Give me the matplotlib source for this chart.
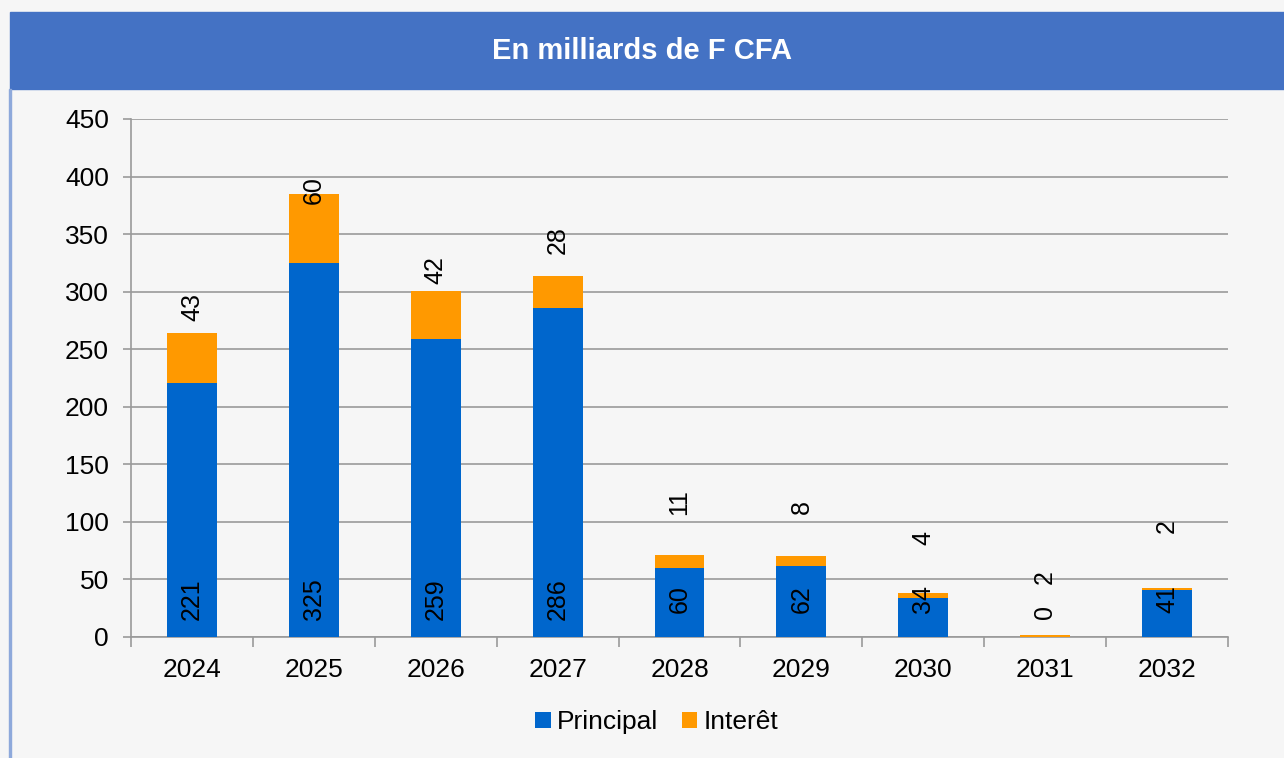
import numpy as np
import matplotlib.pyplot as plt
from matplotlib.patches import Rectangle

plt.rcParams['font.family'] = ['Liberation Sans', 'DejaVu Sans']

# Service de la dette (en milliards de F CFA)
years = ['2024', '2025', '2026', '2027', '2028', '2029', '2030', '2031', '2032']
principal = [221, 325, 259, 286, 60, 62, 34, 0, 41]
interet = [43, 60, 42, 28, 11, 8, 4, 2, 2]

# positions des étiquettes (placées à la main comme dans l'original)
interet_label_y = [287, 388, 319, 345, 117, 113, 86, 52, 96]
principal_label_y = [33, 33, 33, 33, 33, 33, 33, 22, 33]

blue = '#0066CC'
orange = '#FF9900'

fig = plt.figure(figsize=(12.84, 7.58), dpi=100)
fig.patch.set_facecolor('#F6F6F6')

# bandeau du titre
fig.patches.append(Rectangle((10/1284, 1 - 89/758), 1 - 10/1284, 77/758,
                             transform=fig.transFigure, color='#4472C4', zorder=0))
fig.patches.append(Rectangle((9/1284, 0), 1.5/1284, 1 - 89/758,
                             transform=fig.transFigure, color='#8EA9DB', zorder=0))
fig.text(0.5, 1 - 51/758, 'En milliards de F CFA', color='white', fontsize=21,
         fontweight='bold', ha='center', va='center')

ax = fig.add_axes([131/1284, 1 - 637/758, (1228 - 131)/1284, (637 - 119)/758])
ax.set_facecolor('none')

x = np.arange(len(years))
w = 0.41
ax.bar(x, principal, w, color=blue, label='Principal', zorder=3)
ax.bar(x, interet, w, bottom=principal, color=orange, label='Interêt', zorder=3)

for i in range(len(years)):
    ax.text(x[i], principal_label_y[i], str(principal[i]), rotation=90,
            ha='center', va='center', fontsize=18, zorder=4)
    ax.text(x[i], interet_label_y[i], str(interet[i]), rotation=90,
            ha='center', va='center', fontsize=18, zorder=4)

ax.set_xlim(-0.5, len(years) - 0.5)
ax.set_ylim(0, 450)
ax.set_yticks(np.arange(0, 451, 50))
ax.yaxis.grid(True, color='#9A9A9A', linewidth=1.2, zorder=0)
ax.set_axisbelow(True)

ax.set_xticks(x)
ax.set_xticklabels(years)
ax.set_xticks(np.arange(-0.5, len(years)), minor=True)
ax.tick_params(axis='x', which='major', length=0, pad=15, labelsize=19)
ax.tick_params(axis='x', which='minor', length=7, color='#9A9A9A', width=1.2)
ax.tick_params(axis='y', length=6, color='#9A9A9A', width=1.2, labelsize=19, pad=10)

for s in ['top', 'right']:
    ax.spines[s].set_visible(False)
for s in ['left', 'bottom']:
    ax.spines[s].set_color('#9A9A9A')
    ax.spines[s].set_linewidth(1.2)

leg = fig.legend(loc='center', bbox_to_anchor=(657/1284, 1 - 722/758), ncol=2,
                 frameon=False, fontsize=19, handlelength=0.57, handleheight=0.57,
                 handletextpad=0.25, columnspacing=0.9)

fig.savefig('out.png', dpi=100, facecolor=fig.get_facecolor())
